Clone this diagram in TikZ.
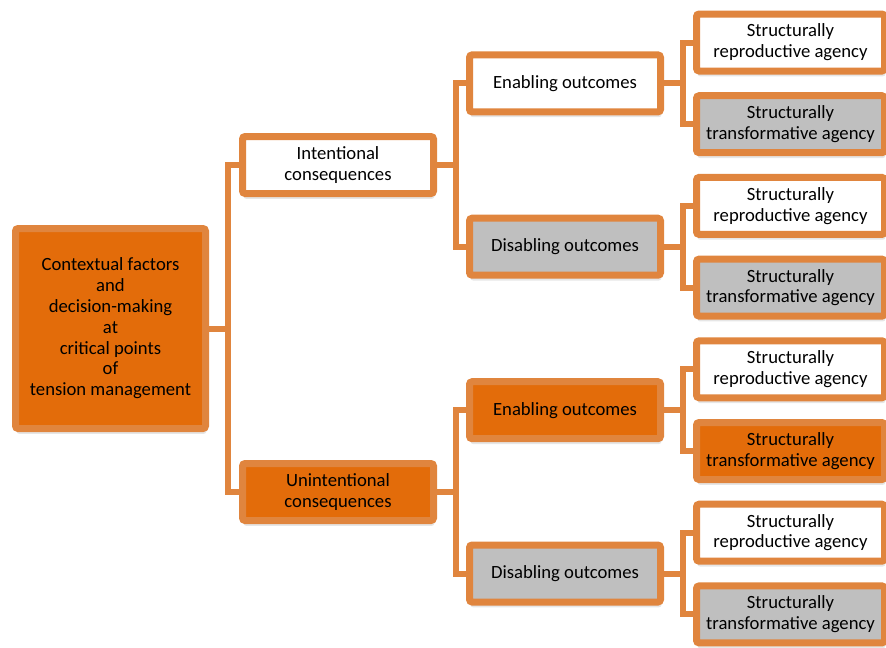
\documentclass[tikz,border=0pt]{standalone}
\usepackage{fontspec}
\setmainfont{Carlito}
\usetikzlibrary{shadows}
\definecolor{edgeorange}{RGB}{224,133,62}
\definecolor{deeporange}{RGB}{227,108,10}
\definecolor{boxgray}{RGB}{191,191,191}
\begin{document}
\begin{tikzpicture}[x=0.75pt,y=-0.75pt,
    box/.style={draw=edgeorange, line width=5.25pt, rounded corners=2pt, fill=white,
      align=center, inner sep=0pt, minimum width=143.25pt, minimum height=42.75pt,
      font=\fontsize{14}{15.6}\selectfont,
      drop shadow={shadow xshift=0.75pt, shadow yshift=-4pt, opacity=0.2}},
    leaf/.style={box, minimum width=141pt},
    grey/.style={fill=boxgray},
    hot/.style={fill=deeporange},
    link/.style={draw=edgeorange, line width=4.5pt}]
    \useasboundingbox (0,0) rectangle (886,647);
    \node[box, hot, minimum width=142.5pt, minimum height=150pt] (root) at (110.5,328.5)
      {Contextual factors\\and\\decision-making\\at\\critical points\\of\\tension management};
    \node[box] (int) at (338,165) {Intentional\\consequences};
    \node[box, hot] (unint) at (338,492) {Unintentional\\consequences};
    \node[box] (enA) at (565,83.4) {Enabling outcomes};
    \node[box, grey] (disA) at (565,246.7) {Disabling outcomes};
    \node[box, hot] (enB) at (565,410.2) {Enabling outcomes};
    \node[box, grey] (disB) at (565,573.5) {Disabling outcomes};
    \node[leaf] (repA) at (790.5,42.5) {Structurally\\reproductive agency};
    \node[leaf, grey] (traA) at (790.5,124.2) {Structurally\\transformative agency};
    \node[leaf] (repB) at (790.5,205.9) {Structurally\\reproductive agency};
    \node[leaf, grey] (traB) at (790.5,287.6) {Structurally\\transformative agency};
    \node[leaf] (repC) at (790.5,369.3) {Structurally\\reproductive agency};
    \node[leaf, hot] (traC) at (790.5,451) {Structurally\\transformative agency};
    \node[leaf] (repD) at (790.5,532.7) {Structurally\\reproductive agency};
    \node[leaf, grey] (traD) at (790.5,614.4) {Structurally\\transformative agency};
    \draw[link] (root.east) -- ++(18.5,0) |- (int.west);
    \draw[link] (root.east) -- ++(18.5,0) |- (unint.west);
    \draw[link] (int.east) -- ++(18.5,0) |- (enA.west);
    \draw[link] (int.east) -- ++(18.5,0) |- (disA.west);
    \draw[link] (unint.east) -- ++(18.5,0) |- (enB.west);
    \draw[link] (unint.east) -- ++(18.5,0) |- (disB.west);
    \draw[link] (enA.east) -- ++(18.5,0) |- (repA.west);
    \draw[link] (enA.east) -- ++(18.5,0) |- (traA.west);
    \draw[link] (disA.east) -- ++(18.5,0) |- (repB.west);
    \draw[link] (disA.east) -- ++(18.5,0) |- (traB.west);
    \draw[link] (enB.east) -- ++(18.5,0) |- (repC.west);
    \draw[link] (enB.east) -- ++(18.5,0) |- (traC.west);
    \draw[link] (disB.east) -- ++(18.5,0) |- (repD.west);
    \draw[link] (disB.east) -- ++(18.5,0) |- (traD.west);
  \end{tikzpicture}
\end{document}
